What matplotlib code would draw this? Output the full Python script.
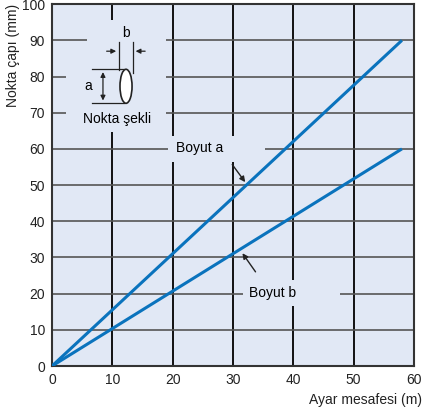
import matplotlib.pyplot as plt
from matplotlib.patches import Rectangle, Ellipse

plt.rcParams['font.family'] = ['Liberation Sans', 'DejaVu Sans']

# --- données ---
mesafe = [0, 58]          # Ayar mesafesi (m)
boyut_a = [0, 90]         # Nokta çapı, boyut a (mm)
boyut_b = [0, 60]         # Nokta çapı, boyut b (mm)
x_ticks = [0, 10, 20, 30, 40, 50, 60]
y_ticks = [0, 10, 20, 30, 40, 50, 60, 70, 80, 90, 100]

bg = '#e1e8f5'
mavi = '#0a73bd'

fig = plt.figure(figsize=(4.24, 4.15), dpi=100)
ax = fig.add_axes([0.1226, 0.118, 0.8538, 0.872])
ax.set_facecolor(bg)
ax.set_xlim(0, 60)
ax.set_ylim(0, 100)
ax.set_xticks(x_ticks)
ax.set_yticks(y_ticks)
ax.tick_params(length=0, labelsize=10, colors='#222222', pad=5)
ax.set_axisbelow(True)
ax.xaxis.grid(True, color='#111111', lw=1.4)
ax.yaxis.grid(True, color='#555555', lw=1.2)
for s in ax.spines.values():
    s.set_color('#333333')
    s.set_linewidth(1.5)

# caches pour couper la grille autour des textes
caches = [(5.8, 64.6, 13.1, 31.0), (2.3, 64.6, 16.6, 20.4),
          (19.2, 56.4, 16.1, 7.1), (31.7, 16.6, 16.0, 7.2)]
for x0, y0, w, h in caches:
    ax.add_patch(Rectangle((x0, y0), w, h, facecolor=bg, edgecolor='none', zorder=1))

ax.plot(mesafe, boyut_a, color=mavi, lw=2.2, zorder=3, solid_capstyle='butt')
ax.plot(mesafe, boyut_b, color=mavi, lw=2.2, zorder=3, solid_capstyle='butt')

# étiquettes + flèches
ax.text(24.5, 60.2, 'Boyut a', fontsize=10, ha='center', va='center', zorder=4)
ax.annotate('', xy=(32.3, 50.2), xytext=(29.6, 56.3),
            arrowprops=dict(arrowstyle='-|>', color='#222222', lw=1, mutation_scale=8), zorder=4)
ax.text(32.6, 20.2, 'Boyut b', fontsize=10, ha='left', va='center', zorder=4)
ax.annotate('', xy=(31.3, 31.8), xytext=(34.0, 25.4),
            arrowprops=dict(arrowstyle='-|>', color='#222222', lw=1, mutation_scale=8), zorder=4)

# schéma de la forme du point
k = dict(color='#222222', lw=0.9, zorder=4)
ax.plot([6.6, 12.0], [82.0, 82.0], **k)
ax.plot([6.6, 12.0], [72.6, 72.6], **k)
ax.add_patch(Ellipse((12.27, 77.3), 2.0, 9.4, facecolor='white', edgecolor='#222222', lw=1.2, zorder=5))
ax.annotate('', xy=(8.45, 82.0), xytext=(8.45, 72.6),
            arrowprops=dict(arrowstyle='<|-|>', color='#222222', lw=0.9, mutation_scale=7), zorder=4)
ax.text(6.0, 77.3, 'a', fontsize=10, ha='center', va='center', zorder=4)
ax.plot([11.1, 11.1], [81.8, 89.5], **k)
ax.plot([13.4, 13.4], [81.0, 89.5], **k)
ax.annotate('', xy=(11.1, 87.0), xytext=(8.6, 87.0),
            arrowprops=dict(arrowstyle='-|>', color='#222222', lw=0.9, mutation_scale=7), zorder=4)
ax.annotate('', xy=(13.4, 87.0), xytext=(15.9, 87.0),
            arrowprops=dict(arrowstyle='-|>', color='#222222', lw=0.9, mutation_scale=7), zorder=4)
ax.text(12.3, 92.0, 'b', fontsize=10, ha='center', va='center', zorder=4)
ax.text(10.8, 68.2, 'Nokta şekli', fontsize=10, ha='center', va='center', zorder=4)

fig.text(0.995, 0.036, 'Ayar mesafesi (m)', fontsize=10, ha='right', va='center', color='#222222')
fig.text(0.03, 0.99, 'Nokta çapı (mm)', fontsize=10, rotation=90, ha='center', va='top', color='#222222')

fig.savefig('out.png', dpi=100)
